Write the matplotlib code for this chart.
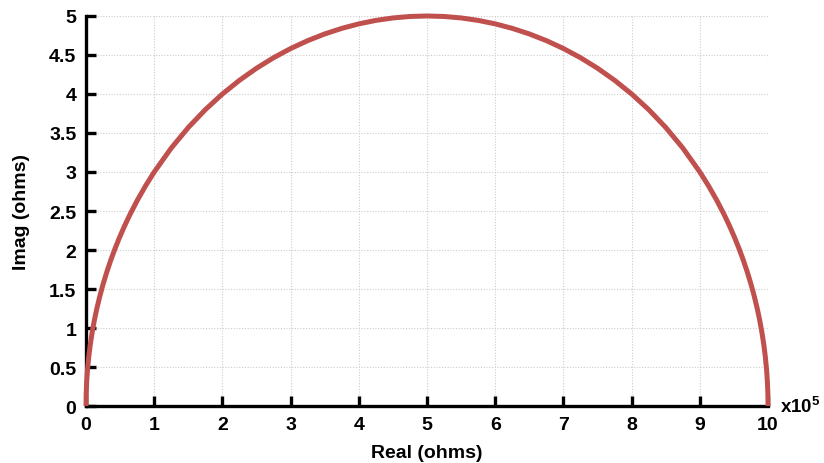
import matplotlib
matplotlib.use("Agg")
from matplotlib import pyplot as plt

plt.rcParams['font.family'] = ['Liberation Sans', 'DejaVu Sans']
plt.rcParams['font.weight'] = 'bold'
plt.rcParams['mathtext.fontset'] = 'custom'
plt.rcParams['mathtext.rm'] = 'Liberation Sans'
plt.rcParams['mathtext.bf'] = 'Liberation Sans:bold'

# impedance (units of 1e5 ohms)
real = [0, 0.0025, 0.01, 0.0225, 0.04, 0.0625, 0.09, 0.1225, 0.16, 0.2025,
        0.25, 0.3025, 0.36, 0.4225, 0.49, 0.5625, 0.64, 0.75, 0.875,
        1.0, 1.25, 1.5, 1.75, 2.0, 2.25, 2.5, 2.75, 3.0, 3.25, 3.5, 3.75,
        4.0, 4.25, 4.5, 4.75, 5.0, 5.25, 5.5, 5.75, 6.0, 6.25, 6.5, 6.75,
        7.0, 7.25, 7.5, 7.75, 8.0, 8.25, 8.5, 8.75, 9.0, 9.125, 9.25,
        9.36, 9.4375, 9.51, 9.5775, 9.64, 9.6975, 9.75, 9.7975, 9.84,
        9.8775, 9.91, 9.9375, 9.96, 9.9775, 9.99, 9.9975, 10]
imag = [0, 0.1581, 0.3161, 0.4738, 0.6312, 0.7881, 0.9444, 1.1, 1.2548, 1.4085,
        1.5612, 1.7127, 1.8629, 2.0116, 2.1587, 2.304, 2.4475, 2.6339, 2.8257,
        3.0, 3.3072, 3.5707, 3.7997, 4.0, 4.1758, 4.3301, 4.4651, 4.5826, 4.6838, 4.7697, 4.8412,
        4.899, 4.9434, 4.9749, 4.9937, 5.0, 4.9937, 4.9749, 4.9434, 4.899, 4.8412, 4.7697, 4.6838,
        4.5826, 4.4651, 4.3301, 4.1758, 4.0, 3.7997, 3.5707, 3.3072, 3.0, 2.8257, 2.6339,
        2.4475, 2.304, 2.1587, 2.0116, 1.8629, 1.7127, 1.5612, 1.4085, 1.2548,
        1.1, 0.9444, 0.7881, 0.6312, 0.4738, 0.3161, 0.1581, 0]

xticks = list(range(0, 11))
yticks = [0, 0.5, 1, 1.5, 2, 2.5, 3, 3.5, 4, 4.5, 5]
ytick_labels = ['0', '0.5', '1', '1.5', '2', '2.5', '3', '3.5', '4', '4.5', '5']

fig = plt.figure(figsize=(8.24, 4.64), dpi=100)
ax = fig.add_axes([0.1044, 0.1228, 0.8277, 0.8406])

ax.plot(real, imag, color='#c0504d', linewidth=3.6, solid_capstyle='butt',
        clip_on=False, zorder=3)

ax.set_xlim(0, 10)
ax.set_ylim(0, 5)
ax.set_xticks(xticks)
ax.set_yticks(yticks)
ax.set_yticklabels(ytick_labels)
ax.grid(True, linestyle=(0, (1, 1.5)), color='#cccccc', linewidth=0.8)
ax.set_axisbelow(True)

for side in ['top', 'right']:
    ax.spines[side].set_visible(False)
for side in ['left', 'bottom']:
    ax.spines[side].set_linewidth(2.4)
    ax.spines[side].set_color('black')
ax.tick_params(direction='in', length=7, width=2.4, labelsize=14, pad=7)

ax.set_xlabel('Real (ohms)', fontsize=14, fontweight='bold', labelpad=8)
ax.set_ylabel('Imag (ohms)', fontsize=14, fontweight='bold', labelpad=14)
ax.text(1.018, 0.0, r'x10$^{\mathbf{5}}$', transform=ax.transAxes,
        fontsize=13.5, fontweight='bold', va='center', ha='left')

plt.savefig('out.png', dpi=100)
plt.close()
